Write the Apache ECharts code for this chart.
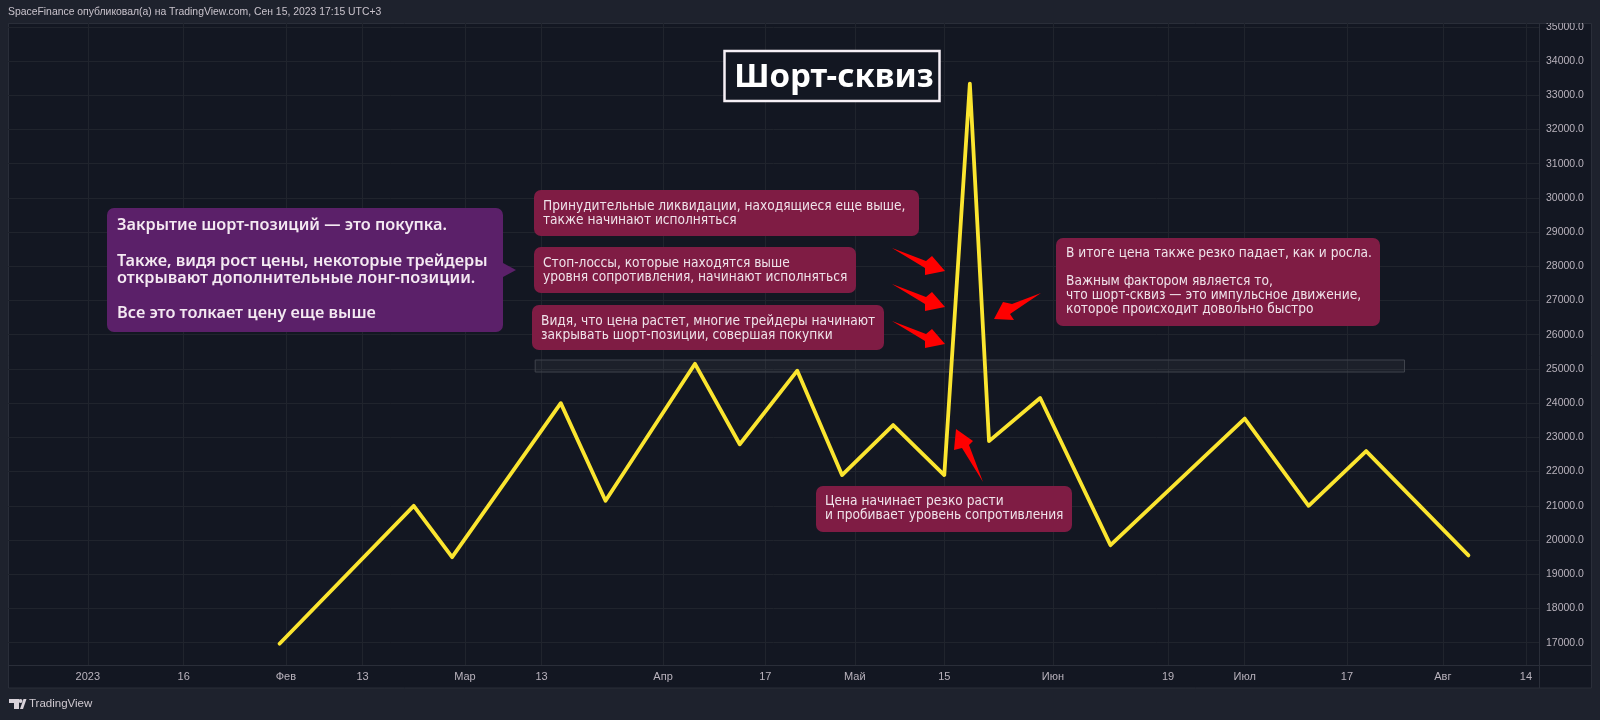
<!DOCTYPE html>
<html><head><meta charset="utf-8">
<style>html,body{margin:0;padding:0;background:#1e222d}#c{width:1600px;height:720px}</style>
<script src="https://cdn.jsdelivr.net/npm/echarts@6/dist/echarts.min.js"></script>
</head><body><div id="c"></div>
<script>
const dates = ['2023-01-31','2023-02-21','2023-02-27','2023-03-16','2023-03-23','2023-04-06','2023-04-13','2023-04-22','2023-04-29','2023-05-07','2023-05-15','2023-05-19','2023-05-22','2023-05-30','2023-06-10','2023-07-01','2023-07-11','2023-07-20','2023-08-05'];
const prices = [16970,21000,19500,24000,21150,25150,22800,24950,21900,23360,21900,33340,22890,24150,19850,23550,21000,22600,19550];
const xTickDates = ['2023-01-01','2023-01-16','2023-02-01','2023-02-13','2023-03-01','2023-03-13','2023-04-01','2023-04-17','2023-05-01','2023-05-15','2023-06-01','2023-06-19','2023-07-01','2023-07-17','2023-08-01','2023-08-14'];
const xTickLabels = ['2023','16','Фев','13','Мар','13','Апр','17','Май','15','Июн','19','Июл','17','Авг','14'];
const yTicks = [17000,18000,19000,20000,21000,22000,23000,24000,25000,26000,27000,28000,29000,30000,31000,32000,33000,34000,35000];
const levelDates = ['2023-03-12','2023-07-26'];
const levelPrices = [24910,25261];
const headerText = 'SpaceFinance опубликовал(а) на TradingView.com, Сен 15, 2023 17:15 UTC+3';
const titleText = 'Шорт-сквиз';
const noteLeft = ['Закрытие шорт-позиций — это покупка.','','Также, видя рост цены, некоторые трейдеры','открывают дополнительные лонг-позиции.','','Все это толкает цену еще выше'];
const noteForced = ['Принудительные ликвидации, находящиеся еще выше,','также начинают исполняться'];
const noteStops = ['Стоп-лоссы, которые находятся выше','уровня сопротивления, начинают исполняться'];
const noteClose = ['Видя, что цена растет, многие трейдеры начинают','закрывать шорт-позиции, совершая покупки'];
const noteResult = ['В итоге цена также резко падает, как и росла.','','Важным фактором является то,','что шорт-сквиз — это импульсное движение,','которое происходит довольно быстро'];
const noteBreak = ['Цена начинает резко расти','и пробивает уровень сопротивления'];

const ts=d=>Date.parse(d+'T00:00:00Z');
const PLOT='#131722', OUTER='#1e222d', EDGE='#2a2e39', GRID='#20242d', AXT='#b9b3bd', MAROON='#7f1c44', PURPLE='#5b2069', TXT='#efe3ea';
const NOTEFONT='13.6px "DejaVu Sans Condensed","DejaVu Sans"';
function bubble(x0,y0,x1,y1,fill){return {type:'rect',z:20,shape:{x:x0,y:y0,width:x1-x0,height:y1-y0,r:7},style:{fill:fill}};}
function note(x,y,lines,lh,font,fill){return {type:'text',z:21,x:x,y:y,style:{text:lines.join('\n'),font:font,fill:fill||TXT,lineHeight:lh,verticalAlign:'top',align:'left'}};}
function poly(pts){return {type:'polygon',z:22,shape:{points:pts},style:{fill:'#ff0000'}};}
function shifted(dy){return poly([[892,248+dy],[926,261+dy],[932,256+dy],[945,271+dy],[925,275+dy],[925,268+dy]]);}

const graphics=[
 {type:'rect',z:-5,silent:true,shape:{x:8.5,y:23.5,width:1583,height:664.5},style:{fill:PLOT,stroke:EDGE,lineWidth:1}},
 {type:'line',z:3,shape:{x1:8,y1:665.5,x2:1592,y2:665.5},style:{stroke:EDGE,lineWidth:1}},
 {type:'line',z:3,shape:{x1:1539.5,y1:23,x2:1539.5,y2:688},style:{stroke:EDGE,lineWidth:1}},
 {type:'rect',z:30,shape:{x:0,y:0,width:1600,height:23},style:{fill:OUTER}},
 {type:'text',z:31,x:8,y:7.5,style:{text:headerText,font:'10.4px "Liberation Sans"',fill:'#c9c3cc',verticalAlign:'top'}},
 bubble(107,208,503,332,PURPLE),
 {type:'polygon',z:20,shape:{points:[[503,263],[516,270],[503,277]]},style:{fill:PURPLE}},
 note(117,217,noteLeft,17.6,'600 16.3px "Noto Sans"','#f4e9f2'),
 bubble(534,190,919,236,MAROON), note(543,199,noteForced,14.2,NOTEFONT),
 bubble(534,247,856,293,MAROON), note(543,256,noteStops,14.2,NOTEFONT),
 bubble(532,305,884,350,MAROON), note(541,314,noteClose,14.2,NOTEFONT),
 bubble(1056,238,1380,326,MAROON), note(1066,246,noteResult,14.2,NOTEFONT),
 bubble(816,486,1072,532,MAROON), note(825,494,noteBreak,14.2,NOTEFONT),
 shifted(0), shifted(36), shifted(73),
 poly([[1041,293],[1012,304],[1003,302],[994,319],[1014,320],[1010,314]]),
 poly([[983,482],[969,445],[973,441],[956,429],[954,450],[962,448]]),
 {type:'rect',z:23,shape:{x:724.5,y:51,width:215,height:50},style:{fill:PLOT,stroke:'#f6f0f6',lineWidth:2.5}},
 {type:'text',z:24,x:834,y:78,style:{text:titleText,font:'700 33px "Noto Sans"',fill:'#ffffff',align:'center',verticalAlign:'middle'}},
 {type:'polygon',z:5,shape:{points:[[9,699],[19,699],[19,709],[14,709],[14,703],[9,703]]},style:{fill:'#d9d3da'}},
 {type:'circle',z:5,shape:{cx:20.5,cy:701,r:2},style:{fill:'#d9d3da'}},
 {type:'polygon',z:5,shape:{points:[[20,709],[23.5,699],[26.5,699],[23,709]]},style:{fill:'#d9d3da'}},
 {type:'text',z:5,x:29,y:698,style:{text:'TradingView',font:'11.5px "Liberation Sans"',fill:'#cfc9d0',verticalAlign:'top'}}
];

const chart=echarts.init(document.getElementById('c'),null,{renderer:'canvas',width:1600,height:720});
chart.setOption({
 animation:false,backgroundColor:OUTER,
 grid:{left:8,right:61,top:23,bottom:55},
 xAxis:{type:'value',min:Date.parse('2022-12-19T12:30:00Z'),max:Date.parse('2023-08-16T01:00:00Z'),
  axisLine:{show:false},
  axisTick:{show:false,customValues:xTickDates.map(ts)},
  splitLine:{show:true,lineStyle:{color:GRID,width:1}},
  axisLabel:{show:true,margin:6,color:AXT,fontFamily:'Liberation Sans',fontSize:11,hideOverlap:false,
   customValues:xTickDates.map(ts),
   formatter:function(v){const i=xTickDates.findIndex(d=>ts(d)===v);return i<0?'':xTickLabels[i];}}
 },
 yAxis:{type:'value',position:'right',min:16348,max:35110,
  axisLine:{show:false},
  axisTick:{show:false,customValues:yTicks},
  splitLine:{show:true,lineStyle:{color:GRID,width:1}},
  axisLabel:{show:true,margin:7,color:AXT,fontFamily:'Liberation Sans',fontSize:10.5,customValues:yTicks,hideOverlap:false,
   formatter:v=>v.toFixed(1)}
 },
 series:[{type:'line',data:dates.map((d,i)=>[ts(d),prices[i]]),showSymbol:false,symbol:'none',
  lineStyle:{color:'#fbe52f',width:3.8,cap:'round',join:'round'},z:10,
  markArea:{silent:true,z:1,itemStyle:{color:'rgba(255,255,255,0.04)',borderColor:'#3f434c',borderWidth:1},
   data:[[{xAxis:ts(levelDates[0]),yAxis:levelPrices[1]},{xAxis:ts(levelDates[1]),yAxis:levelPrices[0]}]]}}],
 graphic:{elements:graphics}
});
</script></body></html>
